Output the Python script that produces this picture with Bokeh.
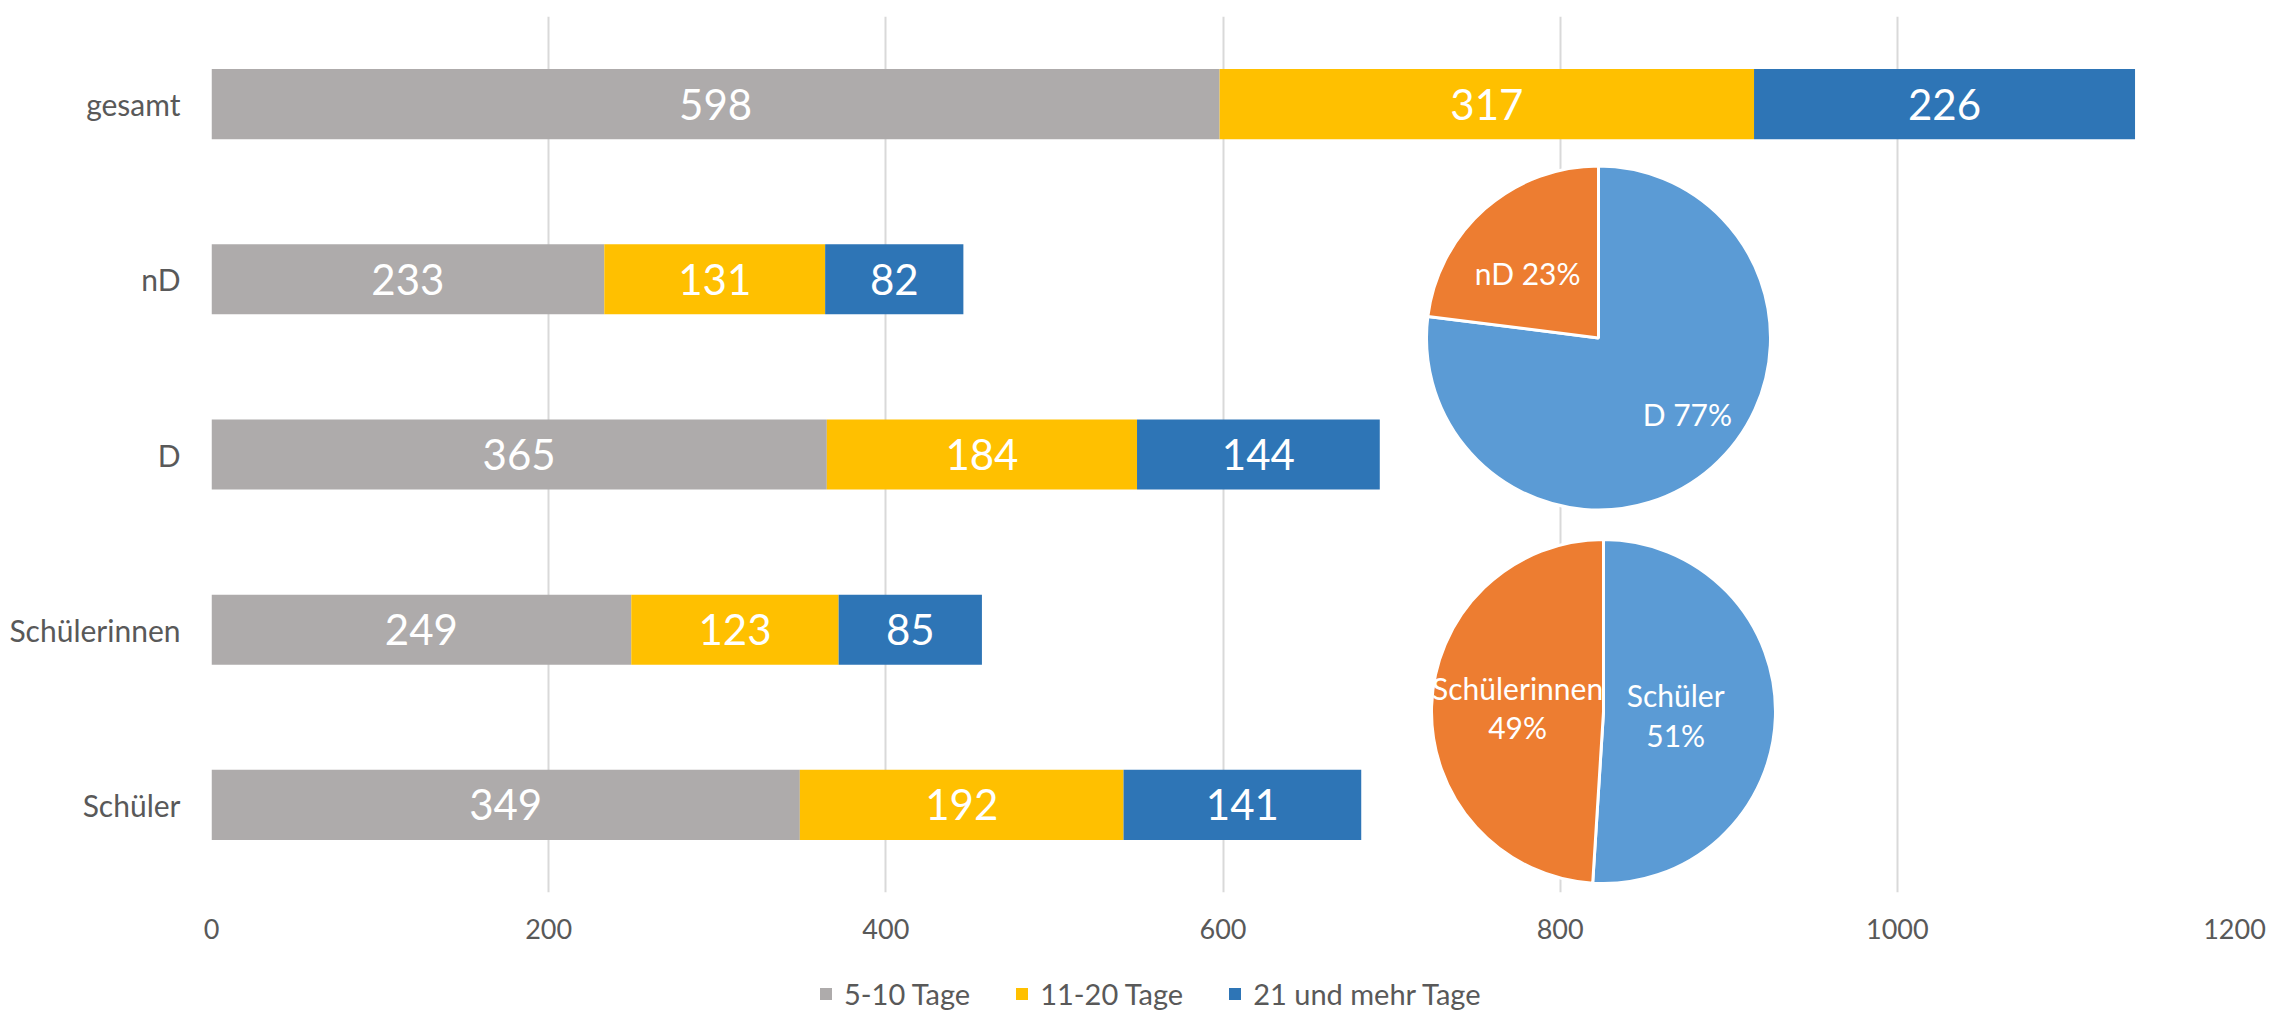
import math
from bokeh.plotting import figure
from bokeh.layouts import column
from bokeh.models import (ColumnDataSource, FactorRange, Range1d, FixedTicker,
                          Legend, LegendItem)
from bokeh.core.properties import value
from bokeh.embed import file_html
from bokeh.resources import INLINE

# ---------------- data ----------------
categories = ["gesamt", "nD", "D", "Schülerinnen", "Schüler"]
series_names = ["5-10 Tage", "11-20 Tage", "21 und mehr Tage"]
tage_5_10 = [598, 233, 365, 249, 349]
tage_11_20 = [317, 131, 184, 123, 192]
tage_21_plus = [226, 82, 144, 85, 141]
x_ticks = [0, 200, 400, 600, 800, 1000, 1200]

pie1_labels = ["D", "nD"]
pie1_shares = [77, 23]
pie2_labels = ["Schüler", "Schülerinnen"]
pie2_shares = [51, 49]

# ---------------- style / layout ----------------
bar_colors = ["#AEABAB", "#FFC000", "#2E75B6"]
pie_colors = ["#5B9BD5", "#ED7D31"]
TEXT = "#595959"
FONT = "Lato"

W = 2270
FRAME_L, FRAME_T, FRAME_W, FRAME_H = 211, 16, 2023, 876
BOTTOM = 60
H_MAIN = FRAME_T + FRAME_H + BOTTOM
H_LEG = 62
X_MAX = 1200
XU = X_MAX / FRAME_W                 # data units per pixel (x)
YU = len(categories) / FRAME_H       # factor units per pixel (y)

p = figure(width=W, height=H_MAIN,
           y_range=FactorRange(*reversed(categories)),
           x_range=Range1d(0, X_MAX),
           output_backend="svg", toolbar_location=None,
           min_border_left=FRAME_L, min_border_top=FRAME_T,
           min_border_right=W - FRAME_L - FRAME_W,
           min_border_bottom=BOTTOM)
p.outline_line_color = None
p.background_fill_color = "white"
p.border_fill_color = "white"

# axes
p.xaxis.ticker = FixedTicker(ticks=x_ticks)
for ax in (p.xaxis, p.yaxis):
    ax.axis_line_color = None
    ax.major_tick_line_color = None
    ax.minor_tick_line_color = None
    ax.major_label_text_font = FONT
    ax.major_label_text_color = TEXT
p.xaxis.major_label_text_font_size = "27px"
p.yaxis.major_label_text_font_size = "30px"
p.xaxis.major_label_standoff = 20
p.yaxis.major_label_standoff = 25
p.ygrid.grid_line_color = None
p.xgrid.grid_line_color = "#D9D9D9"
p.xgrid.grid_line_width = 2

# stacked bars
source = ColumnDataSource(dict(cat=categories, s1=tage_5_10, s2=tage_11_20, s3=tage_21_plus))
p.hbar_stack(["s1", "s2", "s3"], y="cat", height=0.4,
             color=bar_colors, line_color=None, source=source)

# bar value labels
lab_x, lab_y, lab_t = [], [], []
for i, cat in enumerate(categories):
    left = 0
    for vals in (tage_5_10, tage_11_20, tage_21_plus):
        v = vals[i]
        lab_x.append(left + v / 2)
        lab_y.append(cat)
        lab_t.append(str(v))
        left += v
p.text(x=lab_x, y=lab_y, text=lab_t, text_align="center", text_baseline="middle",
       text_color="white", text_font=value(FONT), text_font_size="42px")

# pies (centre: x in data units, y as factor + offset; radius in screen px)
def draw_pie(cx, cfac, coff, r, labels, shares, label_fracs, label_turns, two_line):
    cum = 0
    for lab, sh, col, lf, turn in zip(labels, shares, pie_colors, label_fracs, label_turns):
        a0 = math.pi / 2 - 2 * math.pi * cum / 100
        a1 = math.pi / 2 - 2 * math.pi * (cum + sh) / 100
        p.wedge(x=[cx], y=[(cfac, coff)], radius=r, radius_units="screen",
                start_angle=a0, end_angle=a1, direction="clock",
                fill_color=col, line_color="white", line_width=3)
        am = math.pi / 2 - 2 * math.pi * (cum + sh / 2) / 100 + math.radians(turn)
        tx = cx + r * lf * math.cos(am) * XU
        toff = coff + r * lf * math.sin(am) * YU
        txt = f"{lab}\n{sh}%" if two_line else f"{lab} {sh}%"
        p.text(x=[tx], y=[(cfac, toff)], text=[txt], text_align="center",
               text_baseline="middle", text_color="white", text_font=value(FONT),
               text_font_size="30px", text_line_height=1.1)
        cum += sh

draw_pie(1387 * XU, "nD", -0.335, 172, pie1_labels, pie1_shares,
         [0.68, 0.56], [8, 6], False)
draw_pie(1392 * XU, "Schülerinnen", -0.467, 172, pie2_labels, pie2_shares,
         [0.42, 0.5], [-1, -1], True)

# legend strip (own small figure below the chart; frames are aligned by the column)
lf = figure(width=W, height=H_LEG, x_range=Range1d(0, 1), y_range=Range1d(0, 1),
            output_backend="svg", toolbar_location=None, min_border=0,
            x_axis_location=None, y_axis_location=None)
lf.outline_line_color = None
lf.xgrid.grid_line_color = None
lf.ygrid.grid_line_color = None
leg_renderers = [lf.hbar(y=[-10], left=[0], right=[0], height=0.1, color=c, line_color=None)
                 for c in bar_colors]
items = [LegendItem(label=n, renderers=[r]) for n, r in zip(series_names, leg_renderers)]
legend = Legend(items=items, orientation="horizontal", location=(818 - FRAME_L, 3),
                padding=0, margin=0, spacing=44, label_standoff=11,
                glyph_width=15, glyph_height=15,
                label_text_font=FONT, label_text_font_size="29px",
                label_text_color=TEXT, border_line_color=None,
                background_fill_alpha=0)
lf.add_layout(legend)

open("out.html", "w").write(file_html(column(p, lf), INLINE))
